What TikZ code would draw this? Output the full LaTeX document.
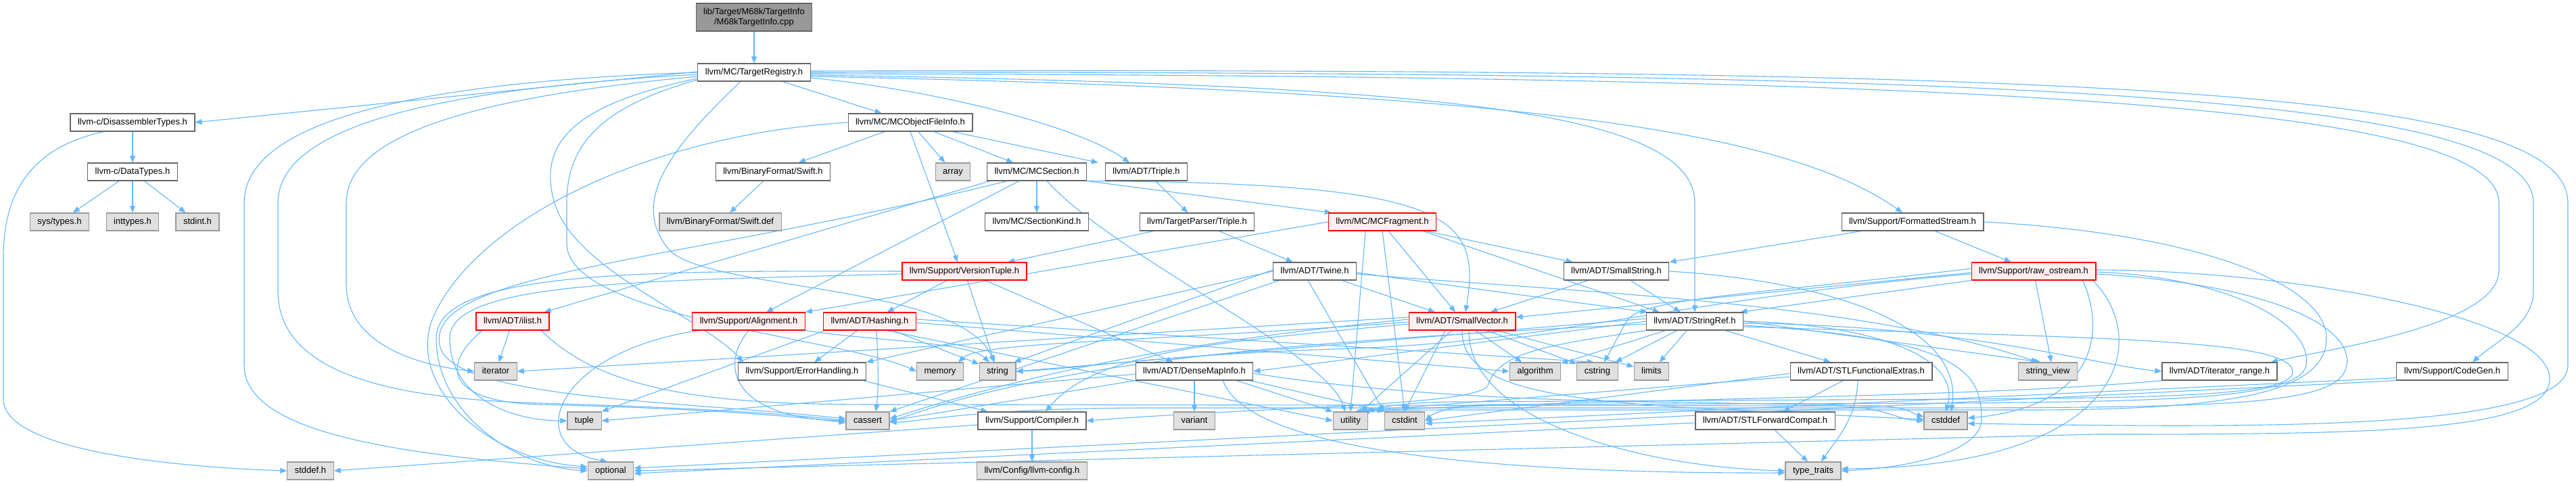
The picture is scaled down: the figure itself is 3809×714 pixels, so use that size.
\documentclass[tikz,border=0pt]{standalone}
\usepackage{fontspec}
\setmainfont{Liberation Sans}
\usetikzlibrary{arrows.meta}
\definecolor{edgeblue}{HTML}{63B8FF}
\definecolor{boxgray}{HTML}{666666}
\definecolor{sysfill}{HTML}{E0E0E0}
\definecolor{sysline}{HTML}{999999}
\definecolor{truncfill}{HTML}{FFF0F0}
\definecolor{truncline}{HTML}{FF0000}
\definecolor{rootfill}{HTML}{999999}
\pgfdeclarelayer{bglayer}
\pgfdeclarelayer{edgelayer}
\pgfsetlayers{bglayer,edgelayer,main}
\begin{document}
\begin{tikzpicture}[x=1pt,y=-1pt,
  base/.style={draw,rectangle,line width=1.2pt,inner xsep=11pt,inner ysep=0pt,minimum height=26pt,text height=9.5pt,text depth=2.7pt,font=\fontsize{13}{15}\selectfont,text=black},
  file/.style={base,draw=boxgray,fill=white},
  sys/.style={base,draw=sysline,fill=sysfill},
  trunc/.style={base,draw=truncline,fill=truncfill},
  rootnode/.style={draw=boxgray,fill=rootfill,line width=1.2pt,rectangle,inner xsep=11pt,inner ysep=4pt,minimum height=41pt,align=center,font=\fontsize{13}{15}\selectfont},
  e/.style={draw=edgeblue,line width=1.1pt,-{Triangle[length=10pt,width=8pt]}}]
\useasboundingbox (0,0) rectangle (3809,714);
\begin{pgfonlayer}{bglayer}
\fill[white] (0,0) rectangle (3809,714);
\end{pgfonlayer}

% ---------- nodes ----------
\node[rootnode] (root) at (1115,25.5) {lib/Target/M68k/TargetInfo\\/M68kTargetInfo.cpp};
\node[file] (TR) at (1115,107) {llvm/MC/TargetRegistry.h};
\node[file] (DT) at (196,181) {llvm-c/DisassemblerTypes.h};
\node[file] (DaT) at (196,254) {llvm-c/DataTypes.h};
\node[sys] (systypes) at (88,328) {sys/types.h};
\node[sys] (inttypes) at (196,328) {inttypes.h};
\node[sys] (stdint) at (292,328) {stdint.h};
\node[sys] (stddef) at (459,696) {stddef.h};
\node[file] (MCOFI) at (1346,181) {llvm/MC/MCObjectFileInfo.h};
\node[file] (swifth) at (1143,254) {llvm/BinaryFormat/Swift.h};
\node[sys] (swiftdef) at (1065,328) {llvm/BinaryFormat/Swift.def};
\node[sys] (array) at (1409,254) {array};
\node[file] (MCSection) at (1533,254) {llvm/MC/MCSection.h};
\node[file] (ADTTriple) at (1695,254) {llvm/ADT/Triple.h};
\node[file] (SectionKind) at (1533,328) {llvm/MC/SectionKind.h};
\node[file] (TPTriple) at (1770,328) {llvm/TargetParser/Triple.h};
\node[trunc] (MCFragment) at (2044,328) {llvm/MC/MCFragment.h};
\node[file] (FStream) at (2828,328) {llvm/Support/FormattedStream.h};
\node[trunc] (VT) at (1426,401) {llvm/Support/VersionTuple.h};
\node[file] (Twine) at (1944,401) {llvm/ADT/Twine.h};
\node[file] (SmallString) at (2390,401) {llvm/ADT/SmallString.h};
\node[trunc] (rawos) at (3007,401) {llvm/Support/raw\_ostream.h};
\node[trunc] (ilist) at (758,475) {llvm/ADT/ilist.h};
\node[trunc] (Alignment) at (1107,475) {llvm/Support/Alignment.h};
\node[trunc] (Hashing) at (1286,475) {llvm/ADT/Hashing.h};
\node[trunc] (SmallVector) at (2162,475) {llvm/ADT/SmallVector.h};
\node[file] (StringRef) at (2506,475) {llvm/ADT/StringRef.h};
\node[sys] (iterator) at (733,549) {iterator};
\node[file] (ErrH) at (1186,549) {llvm/Support/ErrorHandling.h};
\node[sys] (memory) at (1390,549) {memory};
\node[sys] (string) at (1475,549) {string};
\node[file] (DMI) at (1766,549) {llvm/ADT/DenseMapInfo.h};
\node[sys] (algorithm) at (2270,549) {algorithm};
\node[sys] (cstring) at (2362,549) {cstring};
\node[sys] (limits) at (2442,549) {limits};
\node[file] (STLFunc) at (2752,549) {llvm/ADT/STLFunctionalExtras.h};
\node[sys] (stringview) at (3028,549) {string\_view};
\node[file] (itrange) at (3282,549) {llvm/ADT/iterator\_range.h};
\node[file] (CodeGen) at (3626,549) {llvm/Support/CodeGen.h};
\node[sys] (tuple) at (864,622) {tuple};
\node[sys] (cassert) at (1283,622) {cassert};
\node[file] (Compiler) at (1526,622) {llvm/Support/Compiler.h};
\node[sys] (variant) at (1766,622) {variant};
\node[sys] (utility) at (1997,622) {utility};
\node[sys] (cstdint) at (2077,622) {cstdint};
\node[file] (STLFC) at (2610,622) {llvm/ADT/STLForwardCompat.h};
\node[sys] (cstddef) at (2877,622) {cstddef};
\node[sys] (optional) at (903,696) {optional};
\node[sys] (llvmconfig) at (1526,696) {llvm/Config/llvm-config.h};
\node[sys] (typetraits) at (2681,696) {type\_traits};

% ---------- edges ----------
\begin{pgfonlayer}{edgelayer}
\draw[e] (root) -- (TR);
% TargetRegistry, left side
\draw[e] ([yshift=1pt]TR.west) -- (DT.east);
\draw[e] (TR.west) .. controls (700,118) and (361,160) .. (361,300) -- (361,540) .. controls (361,650) and (640,675) .. ([yshift=3pt]optional.west);
\draw[e] ([yshift=-3pt]TR.west) .. controls (720,128) and (411,170) .. (411,300) -- (411,430) .. controls (411,560) and (600,590) .. (800,596) .. controls (1000,602) and (1150,610) .. (cassert.west);
\draw[e] ([yshift=-6pt]TR.west) .. controls (740,140) and (512,190) .. (512,300) -- (512,420) .. controls (512,510) and (620,540) .. (iterator.west);
\draw[e] ([yshift=-9pt]TR.west) .. controls (870,150) and (790,200) .. (820,300) .. controls (850,400) and (1040,470) .. ([xshift=8pt]ErrH.north west);
\draw[e] ([yshift=-11pt]TR.west) .. controls (880,160) and (838,220) .. (838,300) -- (838,360) .. controls (838,470) and (1250,500) .. (memory.west);
\draw[e] ([xshift=-20pt]TR.south) .. controls (990,220) and (930,300) .. (990,370) .. controls (1050,430) and (1420,420) .. ([xshift=-5pt]string.north);
% TargetRegistry, right side
\draw[e] (TR) -- (MCOFI);
\draw[e] ([yshift=-8pt]TR.east) .. controls (1400,135) and (1600,190) .. ([xshift=-25pt]ADTTriple.north);
\draw[e] ([yshift=-4pt]TR.east) .. controls (2100,125) and (2506,160) .. (2506,300) -- (StringRef.north);
\draw[e] ([yshift=-6pt]TR.east) .. controls (2300,135) and (2650,200) .. ([xshift=-15pt]FStream.north);
\draw[e] ([yshift=-2pt]TR.east) .. controls (2900,112) and (3695,150) .. (3695,300) -- (3695,400) .. controls (3695,480) and (3450,515) .. ([xshift=-10pt]itrange.north east);
\draw[e] (TR.east) .. controls (3000,105) and (3746,140) .. (3746,300) -- (3746,430) .. controls (3746,480) and (3690,505) .. ([xshift=30pt]CodeGen.north);
\draw[e] ([yshift=2pt]TR.east) .. controls (3100,100) and (3797,130) .. (3797,300) -- (3797,540) .. controls (3797,640) and (3300,632) .. ([yshift=-4pt]cstddef.east);
% DisassemblerTypes / DataTypes
\draw[e] (DT) -- (DaT);
\draw[e] ([xshift=50pt]DT.south west) .. controls (60,215) and (5,270) .. (5,380) -- (5,590) .. controls (5,665) and (250,690) .. (stddef.west);
\draw[e] (DaT) -- (systypes);
\draw[e] (DaT) -- (inttypes);
\draw[e] (DaT) -- (stdint);
% MCObjectFileInfo
\draw[e] (MCOFI) -- (swifth);
\draw[e] (MCOFI) -- (array);
\draw[e] (MCOFI) -- (MCSection);
\draw[e] ([xshift=-30pt]MCOFI.south east) -- ([xshift=-10pt]ADTTriple.north west);
\draw[e] (MCOFI.south) -- ([xshift=-10pt]VT.north);
\draw[e] (MCOFI.west) .. controls (950,200) and (700,330) .. (640,470) .. controls (600,570) and (720,680) .. ([yshift=6pt]optional.west);
\draw[e] (swifth) -- (swiftdef);
\draw[e] (ADTTriple) -- (TPTriple);
\draw[e] (TPTriple) -- (VT);
\draw[e] (TPTriple) -- (Twine);
% MCSection
\draw[e] (MCSection) -- (SectionKind);
\draw[e] ([xshift=5pt]MCSection.south west) -- ([xshift=-8pt]ilist.north east);
\draw[e] (MCSection) -- (Alignment);
\draw[e] ([xshift=30pt]MCSection.south west) .. controls (1000,390) and (630,400) .. (650,510) .. controls (665,590) and (1000,592) .. ([yshift=3pt]cassert.west);
\draw[e] (MCSection.south east) -- ([xshift=5pt]MCFragment.north west);
\draw[e] (MCSection.south east) .. controls (2150,270) and (2190,320) .. ([xshift=5pt]SmallVector.north);
\draw[e] ([xshift=15pt]MCSection.south) .. controls (1650,380) and (1960,520) .. ([xshift=-8pt]utility.north);
% MCFragment
\draw[e] (MCFragment) -- (SmallString);
\draw[e] ([xshift=9pt]MCFragment.south) -- ([xshift=-10pt]SmallVector.north);
\draw[e] ([xshift=-20pt]MCFragment.south east) -- ([xshift=20pt]StringRef.north west);
\draw[e] (MCFragment.south) -- (cstdint.north);
\draw[e] ([xshift=-25pt]MCFragment.south) -- (utility.north);
\draw[e] (MCFragment.west) -- (Alignment.north east);
% VersionTuple
\draw[e] (VT) -- (Hashing);
\draw[e] (VT) -- (string);
\draw[e] (VT) -- (DMI);
\draw[e] (VT.west) .. controls (950,400) and (645,400) .. (645,500) .. controls (645,610) and (760,690) .. (optional.west);
\draw[e] ([yshift=-4pt]VT.west) .. controls (960,415) and (665,415) .. (665,500) .. controls (665,590) and (760,622) .. (tuple.west);
% Hashing
\draw[e] (Hashing) -- (ErrH);
\draw[e] ([xshift=3pt]Hashing.south west) -- (tuple.north east);
\draw[e] (Hashing) -- (string);
\draw[e] ([xshift=10pt]Hashing.south) .. controls (1300,560) and (1298,585) .. ([xshift=12pt]cassert.north);
\draw[e] ([yshift=-2pt]Hashing.east) -- (algorithm.west);
\draw[e] ([yshift=3pt]Hashing.east) -- ([xshift=-5pt]cstring.north);
\draw[e] ([xshift=25pt]Hashing.south) -- (utility.west);
% Alignment
\draw[e] (Alignment.south) .. controls (1060,545) and (1090,618) .. (cassert.west);
\draw[e] ([xshift=10pt]Alignment.south west) .. controls (820,520) and (770,660) .. ([xshift=-5pt]optional.north);
\draw[e] (Alignment.south east) .. controls (1300,505) and (1430,505) .. ([xshift=-12pt]string.north);
% ilist
\draw[e] (ilist) -- (iterator);
\draw[e] ([xshift=10pt]ilist.south west) .. controls (650,540) and (660,595) .. (800,598) .. controls (1000,603) and (1150,612) .. ([yshift=-3pt]cassert.west);
\draw[e] ([xshift=-12pt]ilist.south east) .. controls (900,590) and (1100,598) .. (1300,598) -- (2700,600) .. controls (2790,600) and (2800,620) .. (cstddef.west);
% SmallVector
\draw[e] ([yshift=-4pt]SmallVector.west) .. controls (1800,505) and (1620,520) .. ([xshift=20pt]Compiler.north);
\draw[e] (SmallVector) -- (algorithm);
\draw[e] (SmallVector) -- (cstring);
\draw[e] (SmallVector) -- (limits);
\draw[e] (SmallVector) -- (utility);
\draw[e] ([xshift=-25pt]SmallVector.south) -- (cstdint.north);
\draw[e] ([yshift=3pt]SmallVector.west) .. controls (1800,500) and (1560,540) .. ([yshift=3pt]cassert.east);
\draw[e] ([yshift=6pt]SmallVector.west) -- (iterator.east);
\draw[e] ([yshift=-1pt]SmallVector.west) .. controls (1700,505) and (1450,505) .. ([xshift=-8pt]memory.north east);
\draw[e] ([xshift=10pt]SmallVector.south) .. controls (2170,620) and (2420,690) .. (typetraits.west);
\draw[e] (SmallVector.south) .. controls (2160,600) and (2400,598) .. ([yshift=2pt]cstddef.west);
% StringRef
\draw[e] (StringRef.west) -- (DMI.east);
\draw[e] (StringRef) -- (STLFunc);
\draw[e] ([yshift=-3pt]StringRef.east) .. controls (2900,480) and (3100,540) .. (itrange.west);
\draw[e] (StringRef.south west) .. controls (2290,510) and (2215,520) .. (2200,570) .. controls (2180,600) and (1900,600) .. (Compiler.east);
\draw[e] (StringRef) -- (algorithm);
\draw[e] (StringRef) -- (cstring);
\draw[e] (StringRef) -- (limits);
\draw[e] ([yshift=-4pt]StringRef.west) .. controls (1900,505) and (1560,535) .. ([yshift=-2pt]cassert.east);
\draw[e] (StringRef.east) .. controls (2780,480) and (2900,530) .. (cstddef.north);
\draw[e] ([yshift=4pt]StringRef.west) -- (string.east);
\draw[e] (StringRef.east) -- ([xshift=-10pt]stringview.north);
\draw[e] ([yshift=-6pt]StringRef.east) .. controls (2900,500) and (2930,550) .. (2930,620) .. controls (2930,660) and (2850,690) .. (typetraits.east);
\draw[e] ([yshift=-8pt]StringRef.east) .. controls (3100,500) and (3390,500) .. (3390,550) .. controls (3390,585) and (3200,588) .. (2900,590) -- (2150,594) .. controls (2080,595) and (2050,600) .. ([xshift=-2pt]utility.north east);
% SmallString
\draw[e] (SmallString) -- (SmallVector);
\draw[e] (SmallString) -- (StringRef);
\draw[e] (SmallString.east) .. controls (2700,415) and (2905,480) .. ([xshift=8pt]cstddef.north);
% Twine
\draw[e] (Twine) -- (SmallVector);
\draw[e] ([yshift=-2pt]Twine.east) -- ([xshift=2pt]StringRef.north west);
\draw[e] (Twine.west) -- (ErrH.north east);
\draw[e] ([xshift=10pt]Twine.south west) -- (cassert.north east);
\draw[e] ([xshift=-10pt]Twine.south) -- (cstdint.north west);
\draw[e] ([yshift=2pt]Twine.west) -- ([xshift=-3pt]string.north east);
\draw[e] ([yshift=-4pt]Twine.east) .. controls (2300,430) and (2750,445) .. ([xshift=-15pt]stringview.north);
% raw_ostream
\draw[e] ([yshift=-2pt]rawos.west) -- ([yshift=6pt]SmallVector.east);
\draw[e] (rawos.south west) -- ([xshift=-5pt]StringRef.north east);
\draw[e] (rawos) -- ([xshift=5pt]stringview.north);
\draw[e] ([yshift=4pt]rawos.west) .. controls (2600,435) and (2425,440) .. (2405,475) -- ([xshift=10pt]cstring.north);
\draw[e] ([yshift=-4pt]rawos.west) .. controls (2500,440) and (2300,505) .. (2000,515) .. controls (1700,525) and (1600,545) .. (string.east);
\draw[e] ([yshift=-4pt]rawos.east) .. controls (3350,420) and (3480,480) .. (3470,540) .. controls (3460,600) and (3300,603) .. (2800,603) -- (1700,603) .. controls (1440,603) and (1360,624) .. ([yshift=-2pt]cassert.east);
\draw[e] ([yshift=-1pt]rawos.east) .. controls (3300,410) and (3420,480) .. (3410,540) .. controls (3400,590) and (3200,593) .. (2900,596) -- (2200,598) .. controls (2150,599) and (2120,610) .. (cstdint.east);
\draw[e] ([yshift=2pt]rawos.east) .. controls (3400,400) and (3770,470) .. (3770,560) .. controls (3770,640) and (3500,642) .. (3100,642) -- (optional.east);
\draw[e] ([xshift=-20pt]rawos.south east) .. controls (3110,480) and (3110,600) .. ([yshift=4pt]cstddef.east);
\draw[e] ([xshift=-5pt]rawos.south east) .. controls (3180,500) and (3150,690) .. ([yshift=3pt]typetraits.east);
% FormattedStream
\draw[e] ([xshift=30pt]FStream.south west) -- (SmallString.north east);
\draw[e] (FStream) -- (rawos);
\draw[e] (FStream.east) .. controls (3250,345) and (3440,420) .. (3440,500) .. controls (3440,580) and (3300,606) .. (3000,606) -- (2150,606) .. controls (2080,606) and (2045,607) .. ([xshift=-14pt]utility.north east);
% DenseMapInfo
\draw[e] (DMI) -- (variant);
\draw[e] ([yshift=-4pt]DMI.west) -- (tuple.east);
\draw[e] (DMI.south west) -- (cassert.east);
\draw[e] ([yshift=-3pt]DMI.east) .. controls (2000,575) and (2200,592) .. (2500,595) -- (2780,600) .. controls (2820,602) and (2830,612) .. ([yshift=6pt]cstddef.west);
\draw[e] ([xshift=-5pt]DMI.south east) -- (cstdint.north west);
\draw[e] ([xshift=-25pt]DMI.south east) -- (utility.north west);
\draw[e] ([xshift=-45pt]DMI.south east) .. controls (1850,680) and (2300,700) .. ([yshift=-3pt]typetraits.west);
% ErrorHandling / Compiler
\draw[e] ([xshift=-5pt]ErrH.south east) -- ([xshift=15pt]Compiler.north west);
\draw[e] (Compiler) -- (llvmconfig);
\draw[e] ([yshift=-6pt]Compiler.west) -- (stddef.east);
% STLFunctionalExtras / STLForwardCompat
\draw[e] (STLFunc) -- (STLFC);
\draw[e] ([xshift=-5pt]STLFunc.south) .. controls (2745,620) and (2715,650) .. ([xshift=12pt]typetraits.north);
\draw[e] ([yshift=-3pt]STLFunc.west) -- (cstdint.east);
\draw[e] ([yshift=-8pt]STLFunc.west) -- ([xshift=-20pt]utility.north east);
\draw[e] (STLFC) -- ([xshift=-8pt]typetraits.north);
\draw[e] ([yshift=-3pt]STLFC.west) -- ([yshift=-4pt]optional.east);
% iterator_range / CodeGen
\draw[e] (itrange.south west) .. controls (2900,590) and (2300,590) .. ([xshift=-8pt]utility.north east);
\draw[e] ([yshift=4pt]CodeGen.south west) -- ([yshift=-4pt]cstdint.east);
\draw[e] (CodeGen.south west) -- ([yshift=4pt]optional.east);
\end{pgfonlayer}
\end{tikzpicture}
\end{document}
